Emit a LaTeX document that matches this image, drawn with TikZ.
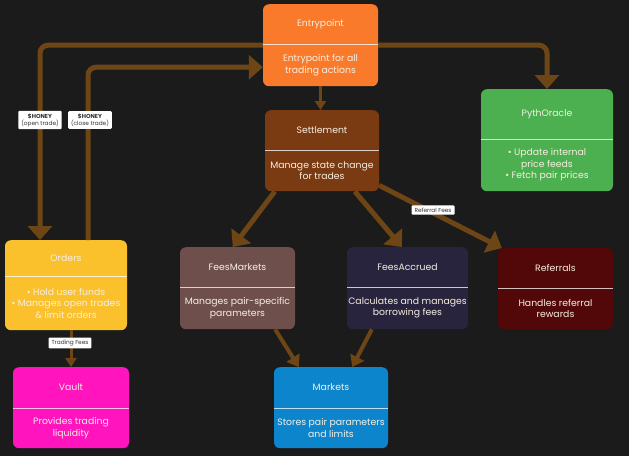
\documentclass[tikz,border=0pt]{standalone}
\usepackage{fontspec}
\setmainfont{Poppins}
\usepackage{tikz}
\usetikzlibrary{arrows.meta}

\definecolor{bgc}{HTML}{1B1B1B}
\definecolor{entryc}{HTML}{F97A2A}
\definecolor{settlec}{HTML}{7A3A12}
\definecolor{pythc}{HTML}{4CAF50}
\definecolor{ordersc}{HTML}{FAC12D}
\definecolor{feesmkc}{HTML}{6E4F4C}
\definecolor{feesaccc}{HTML}{28243E}
\definecolor{refc}{HTML}{520808}
\definecolor{vaultc}{HTML}{FF14BE}
\definecolor{marketc}{HTML}{0C85CD}
\definecolor{arrowc}{HTML}{6E4616}
\definecolor{textc}{HTML}{F6EFE2}

\tikzset{
  modbox/.style={rounded corners=6pt, inner sep=0pt},
  divider/.style={draw=white, opacity=0.75, line width=1pt},
  modtitle/.style={text=textc, font=\fontsize{9.3}{10}\selectfont},
  modtext/.style={text=textc, align=center, font=\fontsize{9.3}{11.5}\selectfont},
  tag/.style={fill=white, rounded corners=1pt, align=center, inner xsep=3pt, inner ysep=2.5pt,
    font=\fontsize{5.8}{7}\selectfont, text=black!80},
  flow/.style={draw=arrowc, line width=5pt, -{Triangle[width=24pt,length=14pt]}},
  flowmid/.style={draw=arrowc, line width=4pt, -{Triangle[width=15pt,length=11pt]}},
  flowthin/.style={draw=arrowc, line width=3pt, -{Triangle[width=11pt,length=9pt]}}
}

\begin{document}
\begin{tikzpicture}[x=1pt,y=-1pt]
\fill[bgc] (0,0) rectangle (629,456);
\useasboundingbox (0,0) rectangle (629,456);

% modules: name/centre x/top/width/height/divider/colour/title/text
\foreach \n/\cx/\ty/\w/\h/\dv/\col/\ttl/\txt in {
  entry/320.5/4/115/82/40/entryc/Entrypoint/{Entrypoint for all\\trading actions},
  settle/322/110/114/81/40/settlec/Settlement/{Manage state change\\for trades},
  pyth/547/89/132/102/50/pythc/PythOracle/{\textbullet\ Update internal\\price feeds\\\textbullet\ Fetch pair prices},
  orders/66/240/122/90/36/ordersc/Orders/{\textbullet\ Hold user funds\\\textbullet\ Manages open trades\\\& limit orders},
  feesmk/237.5/247/115/82/40/feesmkc/FeesMarkets/{Manages pair-specific\\parameters},
  feesacc/407.5/247/121/82/40/feesaccc/FeesAccrued/{Calculates and manages\\borrowing fees},
  referrals/555.5/248/115/81/40/refc/Referrals/{Handles referral\\rewards},
  vault/71/367/116/81/41/vaultc/Vault/{Provides trading\\liquidity},
  markets/331/367/114/81/41/marketc/Markets/{Stores pair parameters\\and limits}}
{
  \node[modbox, fill=\col, minimum width=\w, minimum height=\h, anchor=north] (\n) at (\cx,\ty) {};
  \draw[divider] ([yshift={-\dv}]\n.north west) -- ([yshift={-\dv}]\n.north east);
  \node[modtitle] (\n-title) at ([yshift={-\dv/2}]\n.north) {\ttl};
  \node[modtext] (\n-text) at ([yshift={-(\dv+\h)/2}]\n.north) {\txt};
}

% connectors
\draw[flow, rounded corners=8pt] (entry.west) -| ([xshift=-26]orders.north);
\draw[flow, rounded corners=8pt] ([xshift=22]orders.north) |- ([yshift=-22]entry.west);
\draw[flow, rounded corners=8pt] (entry.east) -| (pyth.north);
\draw[flowthin] (entry.south) -- (entry.south |- settle.north);
\draw[flow] ([xshift=10]settle.south west) -- ([xshift=53]feesmk.north west);
\draw[flow] ([xshift=90]settle.south west) -- ([xshift=55]feesacc.north west);
\draw[flow] ([yshift=6]settle.south east) -- ([xshift=4]referrals.north west);
\draw[flowthin] (vault.north |- orders.south) -- (vault.north);
\draw[flowmid] ([xshift=-20]feesmk.south east) -- ([xshift=25]markets.north west);
\draw[flowmid] ([xshift=25]feesacc.south west) -- ([xshift=-36]markets.north east);

% labels
\node[tag] (lopen) at (40,120) {\textbf{\$HONEY}\\(open trade)};
\node[tag] (lclose) at (90,120) {\textbf{\$HONEY}\\(close trade)};
\node[tag] (lref) at (433,210) {Referral Fees};
\node[tag] (ltrade) at (70,343) {Trading Fees};
\end{tikzpicture}
\end{document}
